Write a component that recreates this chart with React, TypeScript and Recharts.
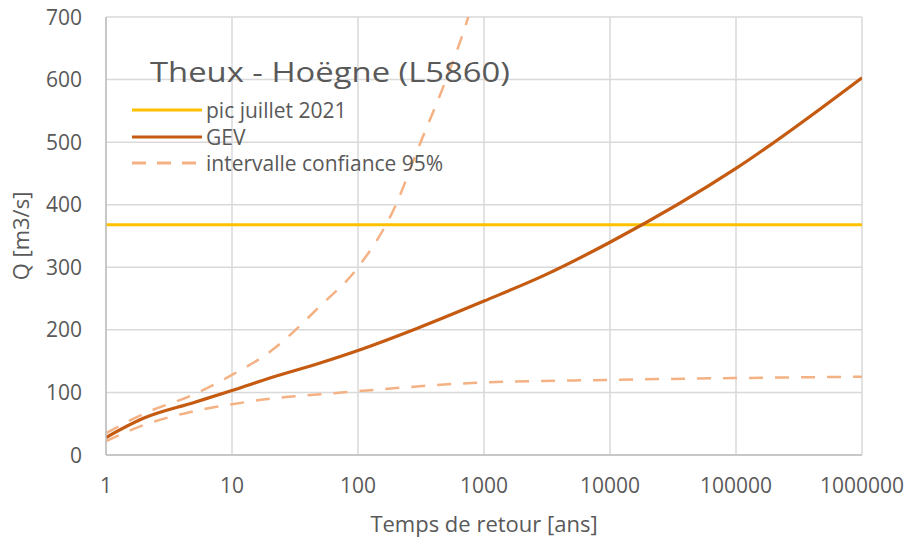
import React from "react";
import { LineChart, Line, XAxis, YAxis, CartesianGrid, Legend } from "recharts";

const T_PEAK = [1, 1000000];
const Q_PEAK = [368, 368];

const T_GEV = [1, 2, 5, 10, 20, 50, 100, 300, 1000, 3000, 10000, 100000, 1000000];
const Q_GEV = [28, 59, 84, 103, 123, 147, 167, 203, 246, 287, 340, 458, 603];

const T_UP = [1, 2, 5, 10, 20, 50, 100, 200, 300, 500, 750, 1000];
const Q_UP = [35, 66, 97, 128, 165, 238, 300, 400, 490, 600, 700, 790];

const T_LO = [1, 2, 5, 10, 20, 50, 100, 1000, 10000, 100000, 1000000];
const Q_LO = [22, 48, 70, 81, 90, 97, 102, 116, 120, 123, 125];

const X_TICKS = [1, 10, 100, 1000, 10000, 100000, 1000000];
const Y_TICKS = [0, 100, 200, 300, 400, 500, 600, 700];

const TITLE = "Theux - Hoëgne (L5860)";
const X_TITLE = "Temps de retour [ans]";
const Y_TITLE = "Q [m3/s]";
const NAME_PEAK = "pic juillet 2021";
const NAME_GEV = "GEV";
const NAME_CI = "intervalle confiance 95%";
const LEGEND_ORDER = [NAME_PEAK, NAME_GEV, NAME_CI];

const zip = (t: number[], q: number[]) => t.map((T, i) => ({ T, Q: q[i] }));
const peakData = zip(T_PEAK, Q_PEAK);
const gevData = zip(T_GEV, Q_GEV);
const upData = zip(T_UP, Q_UP);
const loData = zip(T_LO, Q_LO);

const FONT = "'Open Sans', sans-serif";
const TXT = "#595959";
const C_PEAK = "#FFC000";
const C_GEV = "#C55A11";
const C_CI = "#F4B183";

const XTick = (props: any) => {
  const { x, y, payload } = props;
  return (
    <text x={x} y={y + 30} textAnchor="middle" fill={TXT} fontFamily={FONT} fontSize={21}>
      {payload.value}
    </text>
  );
};

const YTick = (props: any) => {
  const { y, payload } = props;
  return (
    <text x={82} y={y + 7.5} textAnchor="end" fill={TXT} fontFamily={FONT} fontSize={21}>
      {payload.value}
    </text>
  );
};

const LegendContent = (props: any) => {
  const all = (props.payload || []).filter((p: any) => p.type !== "none");
  const items = LEGEND_ORDER.map((n) => all.find((p: any) => p.value === n)).filter(Boolean);
  return (
    <div style={{ fontFamily: FONT, fontSize: 21, color: TXT }}>
      {items.map((p: any, i: number) => (
        <div key={i} style={{ display: "flex", alignItems: "center", height: 26.5 }}>
          <svg width={78} height={10} style={{ flex: "none" }}>
            <line
              x1={4}
              x2={74}
              y1={5}
              y2={5}
              stroke={p.color}
              strokeWidth={3}
              strokeDasharray={p.value === NAME_CI ? "14 11" : undefined}
            />
          </svg>
          <span style={{ lineHeight: "22px", whiteSpace: "nowrap" }}>{p.value}</span>
        </div>
      ))}
    </div>
  );
};

export default function App() {
  return (
    <div style={{ position: "absolute", left: 0, top: 0, width: 912, height: 544, background: "#fff" }}>
      <LineChart width={912} height={544} margin={{ top: 17, right: 50, left: 0, bottom: 0 }}>
        <CartesianGrid stroke="#d9d9d9" strokeWidth={1.5} />
        <XAxis
          dataKey="T"
          type="number"
          scale="log"
          domain={[1, 1000000]}
          ticks={X_TICKS}
          allowDataOverflow
          axisLine={{ stroke: "#bfbfbf", strokeWidth: 1.5 }}
          tickLine={false}
          tick={<XTick />}
          height={89}
          label={{ value: X_TITLE, position: "insideBottom", offset: 12, fill: TXT, fontFamily: FONT, fontSize: 22 }}
        />
        <YAxis
          type="number"
          domain={[0, 700]}
          ticks={Y_TICKS}
          allowDataOverflow
          width={106}
          axisLine={{ stroke: "#bfbfbf", strokeWidth: 1.5 }}
          tickLine={false}
          tick={<YTick />}
          label={{ value: Y_TITLE, angle: -90, position: "insideLeft", offset: 21, fill: TXT, fontFamily: FONT, fontSize: 22, style: { textAnchor: "middle" } }}
        />
        <Legend
          layout="horizontal"
          verticalAlign="middle"
          align="center"
          content={<LegendContent />}
          wrapperStyle={{ left: 128, top: 97, width: 330 }}
        />
        <Line data={peakData} dataKey="Q" name={NAME_PEAK} stroke={C_PEAK} strokeWidth={3} dot={false} isAnimationActive={false} />
        <Line data={gevData} dataKey="Q" name={NAME_GEV} type="monotone" stroke={C_GEV} strokeWidth={3.2} dot={false} isAnimationActive={false} />
        <Line data={upData} dataKey="Q" name={NAME_CI} type="monotone" stroke={C_CI} strokeWidth={2.5} strokeDasharray="14 12" dot={false} isAnimationActive={false} />
        <Line data={loData} dataKey="Q" name={NAME_CI + " "} legendType="none" type="monotone" stroke={C_CI} strokeWidth={2.5} strokeDasharray="14 12" dot={false} isAnimationActive={false} />
      </LineChart>
      <svg style={{ position: "absolute", left: 0, top: 0, pointerEvents: "none" }} width={912} height={544}>
        <text x={150} y={82} fill={TXT} fontFamily={FONT} fontSize={27} textLength={360} lengthAdjust="spacingAndGlyphs">
          {TITLE}
        </text>
      </svg>
    </div>
  );
}
